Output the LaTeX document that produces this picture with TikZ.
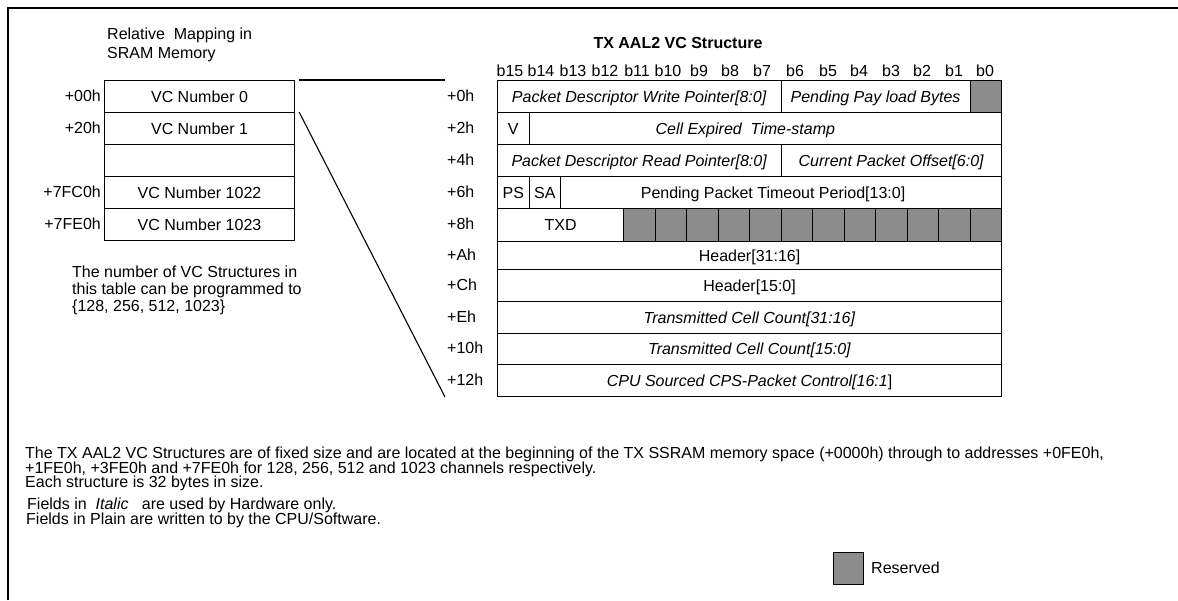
\documentclass[tikz,border=0pt]{standalone}
\usepackage{fontspec}
\setmainfont{Liberation Sans}
\definecolor{resv}{RGB}{140,140,140}
\begin{document}
\begin{tikzpicture}[x=1pt,y=-1pt,
  every node/.style={font=\fontsize{16}{17}\selectfont, inner sep=0pt},
  cell/.style={draw, line width=1.1pt, anchor=north west, text height=11pt, text depth=0pt},
  resbox/.style={cell, fill=resv},
  lbl/.style={text height=11pt, text depth=0pt},
  txt/.style={anchor=base west},
  conn/.style={line width=1.1pt},
  frame/.style={line width=2.6pt}
]
\useasboundingbox (0,0) rectangle (1178,600);
\draw[frame] (8,600) -- (8,8) -- (1178,8);

% left memory table
\node[txt] (rm1) at (107,39) {Relative~ Mapping in};
\node[txt] (rm2) at (107,58) {SRAM Memory};
\node[cell, minimum width=190pt, minimum height=32pt] (vc0) at (104,80) {VC Number 0};
\node[cell, minimum width=190pt, minimum height=32pt] (vc1) at (104,112) {VC Number 1};
\node[cell, minimum width=190pt, minimum height=32pt] (vc2) at (104,144) {};
\node[cell, minimum width=190pt, minimum height=32pt] (vc3) at (104,176) {VC Number 1022};
\node[cell, minimum width=190pt, minimum height=32pt] (vc4) at (104,208) {VC Number 1023};
\node[lbl, anchor=east] (a0) at (101,96) {+00h};
\node[lbl, anchor=east] (a1) at (101,128) {+20h};
\node[lbl, anchor=east] (a3) at (101,192) {+7FC0h};
\node[lbl, anchor=east] (a4) at (101,224) {+7FE0h};
\node[txt] (n1) at (72,277) {The number of VC Structures in};
\node[txt] (n2) at (72,294) {this table can be programmed to};
\node[txt] (n3) at (72,311) {\{128, 256, 512, 1023\}};

% zoom lines
\coordinate (te) at (445,80);
\coordinate (de) at (445,397);
\draw[conn] ([xshift=4pt]vc0.north east) -- (te);
\draw[conn] ([xshift=4pt]vc1.north east) -- (de);

% right structure
\node[txt, font=\bfseries\fontsize{16}{17}\selectfont, anchor=base] (title) at (678,48) {TX AAL2 VC Structure};
\foreach \b/\x in {15/510,14/541,13/573,12/605,11/637,10/668,9/699,8/730,7/762,6/795,5/828,4/859,3/891,2/922,1/954,0/985}
  \node[anchor=base] (bit\b) at (\x,76) {b\b};

% row labels
\foreach \n/\t/\y in {0/+0h/96,1/+2h/128,2/+4h/160,3/+6h/192,4/+8h/224,5/+Ah/255,6/+Ch/285,7/+Eh/317,8/+10h/348,9/+12h/380}
  \node[lbl, anchor=west] (off\n) at (447,\y) {\t};

% row 0
\node[cell, minimum width=283.5pt, minimum height=32pt] (r0a) at (497,80) {\textit{Packet Descriptor Write Pointer[8:0]}};
\node[cell, minimum width=189pt, minimum height=32pt] (r0b) at (780.5,80) {\textit{Pending Pay load Bytes}};
\node[resbox, minimum width=31.5pt, minimum height=32pt] (r0c) at (969.5,80) {};
% row 1
\node[cell, minimum width=31.5pt, minimum height=32pt] (r1a) at (497,112) {V};
\node[cell, minimum width=472.5pt, minimum height=32pt] (r1b) at (528.5,112) {\textit{Cell Expired~ Time-stamp}\hspace*{40pt}};
% row 2
\node[cell, minimum width=283.5pt, minimum height=32pt] (r2a) at (497,144) {\textit{Packet Descriptor Read Pointer[8:0]}};
\node[cell, minimum width=220.5pt, minimum height=32pt] (r2b) at (780.5,144) {\textit{Current Packet Offset[6:0]}};
% row 3
\node[cell, minimum width=31.5pt, minimum height=32pt] (r3a) at (497,176) {PS};
\node[cell, minimum width=31.5pt, minimum height=32pt] (r3b) at (528.5,176) {SA};
\node[cell, minimum width=441pt, minimum height=32pt] (r3c) at (560,176) {Pending Packet Timeout Period[13:0]\hspace*{16pt}};
% row 4
\node[cell, minimum width=126pt, minimum height=33pt] (r4a) at (497,208) {TXD};
\foreach \i in {0,...,11}
  \node[resbox, minimum width=31.5pt, minimum height=33pt] (r4g\i) at ({623+31.5*\i},208) {};
% rows 5-9
\node[cell, minimum width=504pt, minimum height=28pt] (r5) at (497,241) {Header[31:16]};
\node[cell, minimum width=504pt, minimum height=32pt] (r6) at (497,269) {Header[15:0]};
\node[cell, minimum width=504pt, minimum height=32pt] (r7) at (497,301) {\textit{Transmitted Cell Count[31:16]}};
\node[cell, minimum width=504pt, minimum height=31pt] (r8) at (497,333) {\textit{Transmitted Cell Count[15:0]}};
\node[cell, minimum width=504pt, minimum height=32pt] (r9) at (497,364) {\textit{CPU Sourced CPS-Packet Control[16:1}]};

% notes
\node[txt] (p1) at (25,458.5) {The TX AAL2 VC Structures are of fixed size and are located at the beginning of the TX SSRAM memory space (+0000h) through to addresses +0FE0h,};
\node[txt] (p2) at (25,473) {+1FE0h, +3FE0h and +7FE0h for 128, 256, 512 and 1023 channels respectively.};
\node[txt] (p3) at (25,487.5) {Each structure is 32 bytes in size.};
\node[txt] (f1) at (27,509.5) {Fields in~ \textit{Italic}~~ are used by Hardware only.};
\node[txt] (f2) at (26,524.5) {Fields in Plain are written to by the CPU/Software.};

% legend
\node[resbox, minimum width=30pt, minimum height=32pt] (leg) at (833,552) {};
\node[lbl, anchor=west] (legt) at (871,568) {Reserved};
\end{tikzpicture}
\end{document}
